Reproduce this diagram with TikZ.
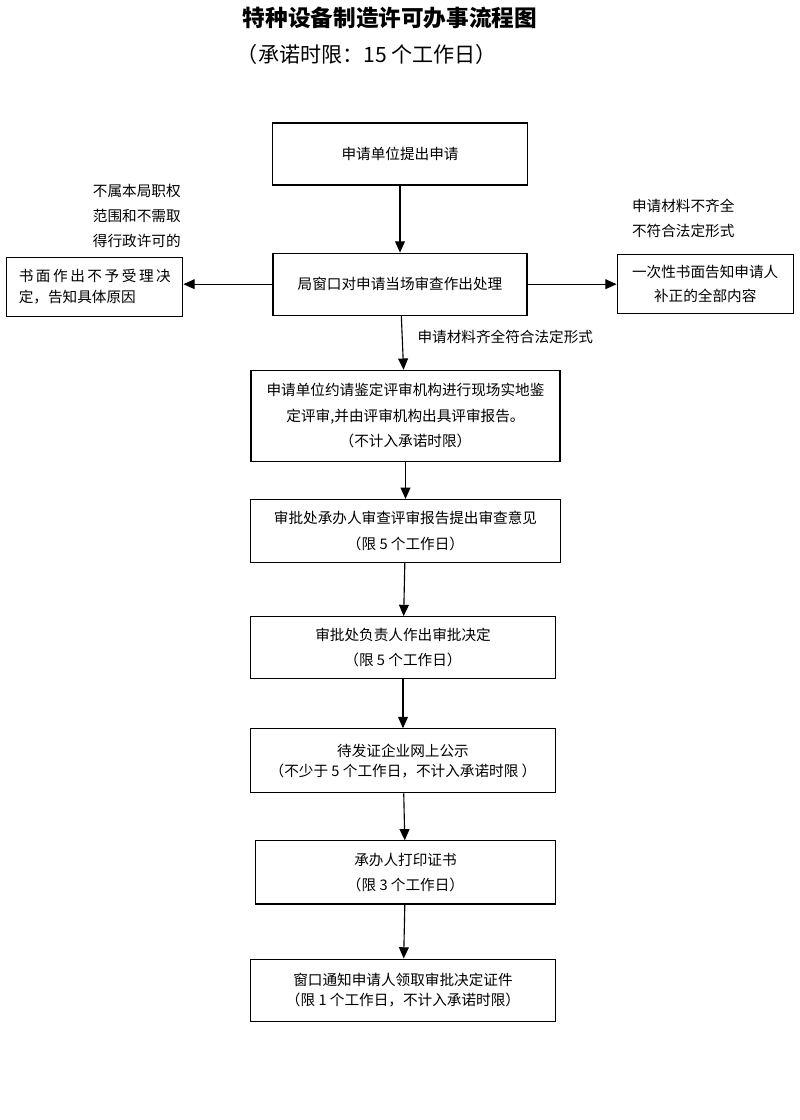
\documentclass[tikz,border=0pt]{standalone}
\usepackage{fontspec}
\setmainfont{Noto Sans CJK SC}
\usepackage{tikz}
\usetikzlibrary{arrows.meta, positioning}

\begin{document}
\begin{tikzpicture}[
  x=0.025cm, y=-0.025cm,
  node distance=1.3cm and 2.225cm,
  box/.style={rectangle, draw, line width=0.8pt, align=center, inner sep=2pt,
              font=\fontsize{10.4}{14.2}\selectfont},
  note/.style={align=center, inner sep=2pt, font=\fontsize{10.4}{17.8}\selectfont},
  arrow/.style={-{Triangle[length=8pt, width=7pt]}, line width=0.8pt},
]

\useasboundingbox (0,0) rectangle (800,1120);
\fill[white] (0,0) rectangle (800,1120);

\node[font=\fontsize{16.1}{20}\selectfont\bfseries] (title) at (390,18)
  {特种设备制造许可办事流程图};
\node[font=\fontsize{15}{18}\selectfont] (limit) at (367,54)
  {（承诺时限：15 个工作日）};

\node[box, minimum width=6.375cm, minimum height=1.55cm] (apply) at (400,154)
  {申请单位提出申请};

\node[box, minimum width=6.35cm, minimum height=1.55cm, below=1.675cm of apply] (window)
  {局窗口对申请当场审查作出处理};

\node[box, minimum width=4.4cm, minimum height=1.475cm, text width=3.8cm, align=left,
      left=of window, yshift=-0.0625cm] (reject)
  {\makebox[3.8cm][l]{书\hfill 面\hfill 作\hfill 出\hfill 不\hfill 予\hfill 受\hfill 理\hfill 决}\\[1pt]定，告知具体原因};

\node[box, minimum width=4.4cm, minimum height=1.475cm, right=of window] (notify)
  {一次性书面告知申请人\\[3pt]补正的全部内容};

\node[note, above=0.15cm of reject, xshift=1.05cm] (outscope)
  {不属本局职权\\范围和不需取\\得行政许可的};

\node[note, above=0.34cm of notify, xshift=-0.55cm] (incomplete)
  {申请材料不齐全\\不符合法定形式};

\node[box, minimum width=7.725cm, minimum height=2.275cm, below=1.35cm of window,
      xshift=0.1375cm] (review)
  {申请单位约请鉴定评审机构进行现场实地鉴\\[4pt]定评审,并由评审机构出具评审报告。\\[4pt]（不计入承诺时限）};

\node[box, minimum width=7.75cm, minimum height=1.575cm, below=0.925cm of review] (opinion)
  {审批处承办人审查评审报告提出审查意见\\[4pt]（限 5 个工作日）};

\node[box, minimum width=7.625cm, minimum height=1.55cm, below=1.325cm of opinion,
      xshift=-0.0625cm] (decide)
  {审批处负责人作出审批决定\\[3.5pt]（限 5 个工作日）};

\node[box, minimum width=7.625cm, minimum height=1.6cm, below=1.225cm of decide] (publish)
  {待发证企业网上公示\\（不少于 5 个工作日，不计入承诺时限 ）};

\node[box, minimum width=7.5cm, minimum height=1.575cm, below=1.175cm of publish,
      xshift=0.0625cm] (print)
  {承办人打印证书\\[3.5pt]（限 3 个工作日）};

\node[box, minimum width=7.625cm, minimum height=1.55cm, below=1.35cm of print,
      xshift=-0.0625cm] (collect)
  {窗口通知申请人领取审批决定证件\\（限 1 个工作日，不计入承诺时限）};

\draw[arrow] (apply) -- (window);
\draw[arrow] (window.west) -- (reject.east |- window.west);
\draw[arrow] (window.east) -- (notify.west |- window.east);
\draw[arrow] (window) -- node[note, right, pos=0.4, xshift=0.3cm] (complete)
  {申请材料齐全符合法定形式} (review);
\draw[arrow] (review) -- (opinion);
\draw[arrow] (opinion) -- (decide);
\draw[arrow] (decide) -- (publish);
\draw[arrow] (publish) -- (print);
\draw[arrow] (print) -- (collect);

\end{tikzpicture}
\end{document}
